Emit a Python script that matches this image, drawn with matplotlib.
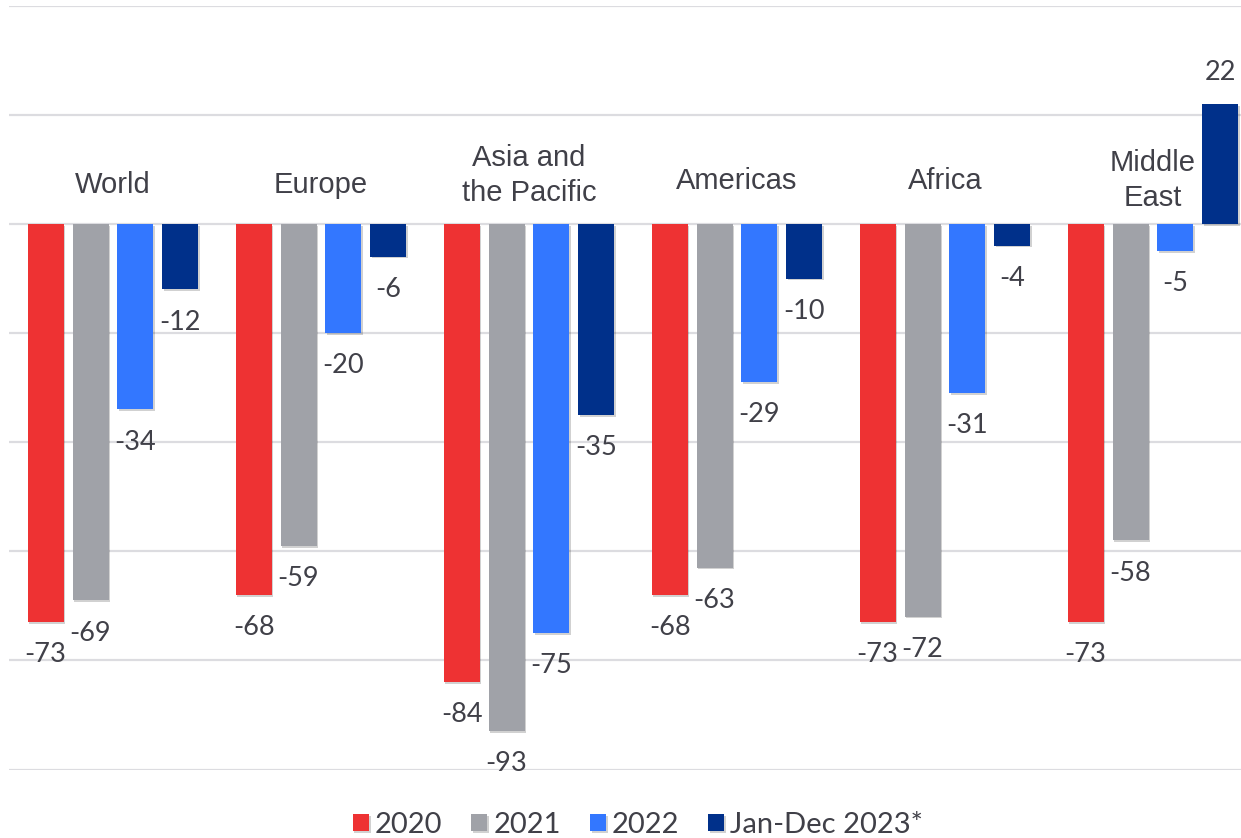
import matplotlib
matplotlib.use("Agg")
import matplotlib.pyplot as plt
import matplotlib.patheffects as pe
import numpy as np

# data
regions = ["World", "Europe", "Asia and\nthe Pacific", "Americas", "Africa", "Middle\nEast"]
series = ["2020", "2021", "2022", "Jan-Dec 2023*"]
v2020 = [-73, -68, -84, -68, -73, -73]
v2021 = [-69, -59, -93, -63, -72, -58]
v2022 = [-34, -20, -75, -29, -31, -5]
v2023 = [-12, -6, -35, -10, -4, 22]

colors = ["#EE3233", "#A0A2A8", "#3377FF", "#00308A"]
text_col = "#404048"
grid_col = "#DCDCE0"
# vertical position (data units) of region label centres
label_y = [7.1, 7.1, 8.9, 7.8, 7.8, 7.9]

fig = plt.figure(figsize=(12.41, 8.38), dpi=100)
ax = fig.add_axes([9 / 1241, 1 - 769.5 / 838, 1248 / 1241, 763.7 / 838])

x = np.arange(len(regions))
step = 0.216
width = 0.173
shadow = [pe.SimplePatchShadow(offset=(1.2, -1.2), shadow_rgbFace="k", alpha=0.18), pe.Normal()]

for i, (name, vals) in enumerate(zip(series, [v2020, v2021, v2022, v2023])):
    pos = x + (i - 1.5) * step
    bars = ax.bar(pos, vals, width, color=colors[i], label=name, zorder=3)
    for b in bars:
        b.set_path_effects(shadow)
    for px, v in zip(pos, vals):
        off = 23 if v > 0 else -23.5
        ax.annotate(str(v), (px, v), xytext=(0, off), textcoords="offset points",
                    ha="center", va="center", fontsize=19.5, color=text_col,
                    family="Lato", zorder=5)

for xi, lab, ly in zip(x, regions, label_y):
    ax.text(xi, ly, lab, ha="center", va="center", fontsize=21, color=text_col,
            family="Liberation Sans", linespacing=1.32, zorder=4)

ax.set_xlim(-0.5, 5.5)
ax.set_ylim(-100, 40)
ax.set_yticks(np.arange(-100, 41, 20))
ax.yaxis.grid(True, color=grid_col, linewidth=1.6, zorder=0)
ax.set_xticks([])
ax.tick_params(left=False, labelleft=False)
for s in ax.spines.values():
    s.set_visible(False)

leg = fig.legend(loc="center", bbox_to_anchor=(638 / 1241, 1 - 825 / 838), ncol=4,
                 frameon=False, handlelength=0.55, handleheight=0.55, handletextpad=0.2,
                 columnspacing=1.0, prop={"family": "Lato", "size": 21})
for t in leg.get_texts():
    t.set_color(text_col)

fig.savefig("out.png", dpi=100)
